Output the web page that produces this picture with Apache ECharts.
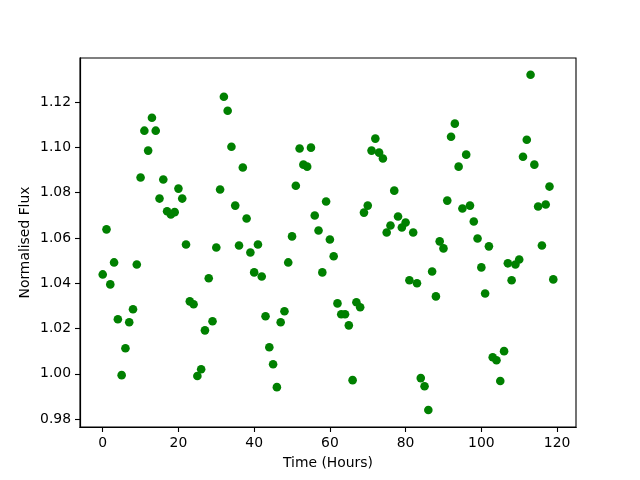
<!DOCTYPE html>
<html>
<head>
<meta charset="utf-8">
<script src="https://cdn.jsdelivr.net/npm/echarts@6/dist/echarts.min.js"></script>
<style>
  html, body { margin: 0; padding: 0; background: #fff; }
  #chart { width: 640px; height: 480px; }
</style>
</head>
<body>
<div id="chart"></div>
<script>
// hours 0..119, one reading per hour
const hours = Array.from({ length: 120 }, (_, i) => i)
const flux = [
  1.0439, 1.0638, 1.0395, 1.0492, 1.0241, 0.9994, 1.0113, 1.0228, 1.0285, 1.0483,
  1.0867, 1.1074, 1.0986, 1.1131, 1.1074, 1.0774, 1.0858, 1.0718, 1.0704, 1.0714,
  1.0818, 1.0774, 1.0571, 1.0320, 1.0307, 0.9990, 1.0020, 1.0192, 1.0422, 1.0232,
  1.0558, 1.0814, 1.1224, 1.1162, 1.1003, 1.0743, 1.0567, 1.0911, 1.0686, 1.0536,
  1.0448, 1.0571, 1.0430, 1.0254, 1.0117, 1.0042, 0.9941, 1.0228, 1.0276, 1.0492,
  1.0607, 1.0831, 1.0995, 1.0924, 1.0915, 1.0999, 1.0699, 1.0633, 1.0448, 1.0761,
  1.0593, 1.0519, 1.0311, 1.0263, 1.0263, 1.0214, 0.9972, 1.0316, 1.0294, 1.0712,
  1.0743, 1.0986, 1.1039, 1.0977, 1.0951, 1.0624, 1.0655, 1.0809, 1.0695, 1.0646,
  1.0668, 1.0413, 1.0624, 1.0400, 0.9981, 0.9945, 0.9840, 1.0452, 1.0342, 1.0585,
  1.0554, 1.0765, 1.1047, 1.1105, 1.0915, 1.0730, 1.0968, 1.0743, 1.0673, 1.0598,
  1.0470, 1.0355, 1.0563, 1.0073, 1.0060, 0.9968, 1.0100, 1.0488, 1.0413, 1.0483,
  1.0505, 1.0959, 1.1034, 1.1321, 1.0924, 1.0739, 1.0567, 1.0748, 1.0827, 1.0417
]
const xTicks = [0, 20, 40, 60, 80, 100, 120]
const yTicks = [0.98, 1.00, 1.02, 1.04, 1.06, 1.08, 1.10, 1.12]

// axis ranges (matplotlib-style 5% margins)
const xMin = -6, xMax = 125
const yMin = 0.9765, yMax = 1.1395

const chart = echarts.init(document.getElementById('chart'), null, { renderer: 'canvas' })

const font = 'DejaVu Sans'
const axisText = { color: '#000', fontFamily: font, fontSize: 13.9 }
const black = { color: '#000', width: 1.1 }

// tick-only helper axes: evenly spaced categories across the same span,
// showing a tick only where one of the tick values falls
const xSteps = []
for (let v = xMin; v <= xMax; v++) xSteps.push(v)
const yStep = 0.0005
const ySteps = []
for (let k = Math.round(yMin / yStep); k <= Math.round(yMax / yStep); k++) ySteps.push(k)
const isXTick = (i, v) => xTicks.includes(Number(v))
const isYTick = (i, v) => yTicks.some(t => Math.round(t / yStep) === Number(v))

const hidden = { show: false }

chart.setOption({
  animation: false,
  backgroundColor: '#fff',
  grid: {
    left: 80, top: 58, right: 64, bottom: 53,
    show: true, borderColor: '#000', borderWidth: 1.1, backgroundColor: 'transparent'
  },
  xAxis: [{
    type: 'value',
    min: xMin, max: xMax,
    name: 'Time (Hours)',
    nameLocation: 'middle',
    nameGap: 29,
    nameMoveOverlap: false,
    nameTextStyle: axisText,
    splitLine: hidden,
    axisLine: { show: true, onZero: false, lineStyle: black },
    axisTick: hidden,
    axisLabel: { ...axisText, margin: 9, customValues: xTicks, formatter: v => String(v) }
  }, {
    type: 'category',
    position: 'bottom',
    data: xSteps,
    boundaryGap: false,
    axisLine: { show: true, onZero: false, lineStyle: black },
    axisLabel: hidden,
    splitLine: hidden,
    axisTick: { show: true, length: 5, inside: false, interval: isXTick, lineStyle: black }
  }],
  yAxis: [{
    type: 'value',
    min: yMin, max: yMax,
    name: 'Normalised Flux',
    nameLocation: 'middle',
    nameGap: 48,
    nameMoveOverlap: false,
    nameTextStyle: axisText,
    splitLine: hidden,
    axisLine: { show: true, onZero: false, lineStyle: black },
    axisTick: hidden,
    axisLabel: { ...axisText, margin: 9, customValues: yTicks, formatter: v => v.toFixed(2) }
  }, {
    type: 'category',
    position: 'left',
    data: ySteps,
    boundaryGap: false,
    axisLine: { show: true, onZero: false, lineStyle: black },
    axisLabel: hidden,
    splitLine: hidden,
    axisTick: { show: true, length: 5, inside: false, interval: isYTick, lineStyle: black }
  }],
  series: [{
    type: 'scatter',
    xAxisIndex: 0,
    yAxisIndex: 0,
    data: hours.map((h, i) => [h, flux[i]]),
    symbol: 'circle',
    symbolSize: 8.6,
    itemStyle: { color: '#008000', opacity: 1 }
  }]
})
</script>
</body>
</html>
